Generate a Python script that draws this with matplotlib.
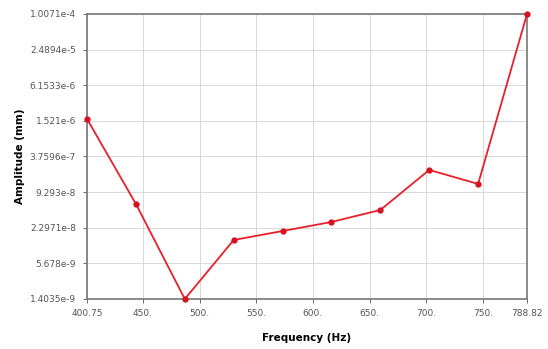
import numpy as np
import matplotlib.pyplot as plt
from matplotlib.ticker import FixedLocator, FixedFormatter, NullLocator

# Data
freq = [400.75, 443.87, 486.99, 530.11, 573.23, 616.35, 659.47, 702.59, 745.70, 788.82]
amplitude = [1.64e-6, 5.84e-8, 1.4035e-9, 1.42e-8, 2.02e-8, 2.88e-8, 4.61e-8, 2.22e-7, 1.28e-7, 1.0071e-4]

x_ticks = [400.75, 450, 500, 550, 600, 650, 700, 750, 788.82]
x_labels = ['400.75', '450.', '500.', '550.', '600.', '650.', '700.', '750.', '788.82']
y_ticks = [1.4035e-9, 5.678e-9, 2.2971e-8, 9.293e-8, 3.7596e-7, 1.521e-6, 6.1533e-6, 2.4894e-5, 1.0071e-4]
y_labels = ['1.4035e-9', '5.678e-9', '2.2971e-8', '9.293e-8', '3.7596e-7',
            '1.521e-6', '6.1533e-6', '2.4894e-5', '1.0071e-4']

fig = plt.figure(figsize=(5.48, 3.49), dpi=100)
ax = fig.add_axes([0.1588, 0.1433, 0.8029, 0.8166])

ax.plot(freq, amplitude, color='#e8202a', lw=1.3, marker='o', ms=3.5,
        markerfacecolor='#d81020', markeredgecolor='#d81020', clip_on=False, zorder=3)

ax.set_yscale('log')
ax.set_xlim(400.75, 788.82)
ax.set_ylim(1.4035e-9, 1.0071e-4)

ax.xaxis.set_major_locator(FixedLocator(x_ticks))
ax.xaxis.set_major_formatter(FixedFormatter(x_labels))
ax.yaxis.set_major_locator(FixedLocator(y_ticks))
ax.yaxis.set_major_formatter(FixedFormatter(y_labels))
ax.yaxis.set_minor_locator(NullLocator())
ax.xaxis.set_minor_locator(NullLocator())

ax.tick_params(axis='both', labelsize=6.5, colors='#555555', length=3, width=0.6)
ax.tick_params(axis='x', pad=4)
ax.tick_params(axis='y', pad=5)
ax.grid(True, color='#d8d8d8', lw=0.7, ls='-')
ax.set_axisbelow(True)
for s in ax.spines.values():
    s.set_color('#777777')
    s.set_linewidth(1.2)

ax.set_xlabel('Frequency (Hz)', fontsize=7.5, fontweight='bold', labelpad=11)
ax.set_ylabel('Amplitude (mm)', fontsize=7.5, fontweight='bold', labelpad=3)

fig.savefig('out.png', dpi=100)
